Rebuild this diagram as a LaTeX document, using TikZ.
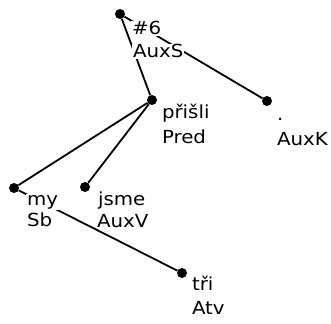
\documentclass[tikz,border=0pt]{standalone}
\usepackage{fontspec}
\setsansfont[FakeStretch=1.1]{DejaVu Sans}
\begin{document}
\begin{tikzpicture}[x=1pt,y=-1pt,
  dot/.style={circle,fill=black,inner sep=0pt,minimum size=10pt},
  edge/.style={line width=1.8pt},
  lbl/.style={anchor=base west,fill=white,inner sep=0.8pt,font=\sffamily\fontsize{18}{20}\selectfont}]
\useasboundingbox (0,0) rectangle (331,323);
% dots
\node[dot] (rd) at (120,14) {};
\node[dot] (pd) at (152,100) {};
\node[dot] (kd) at (267,101) {};
\node[dot] (md) at (14,188) {};
\node[dot] (jd) at (85,187) {};
\node[dot] (td) at (182,273) {};
% edges
\draw[edge] (rd) -- (pd);
\draw[edge] (rd) -- (kd);
\draw[edge] (pd) -- (md);
\draw[edge] (pd) -- (jd);
\draw[edge] (md) -- (td);
% labels
\node[lbl] (r1) at (131,35) {\#6};
\node[lbl] (r2) at (132,58) {AuxS};
\node[lbl] (p1) at (161,118) {přišli};
\node[lbl] (p2) at (161,143) {Pred};
\node[lbl] (k1) at (276,121) {.};
\node[lbl] (k2) at (276,145) {AuxK};
\node[lbl] (m1) at (26,205) {my};
\node[lbl] (m2) at (26,226) {Sb};
\node[lbl] (j1) at (97,205) {jsme};
\node[lbl] (j2) at (96,227) {AuxV};
\node[lbl] (t1) at (191,290) {tři};
\node[lbl] (t2) at (191,314) {Atv};
\end{tikzpicture}
\end{document}
